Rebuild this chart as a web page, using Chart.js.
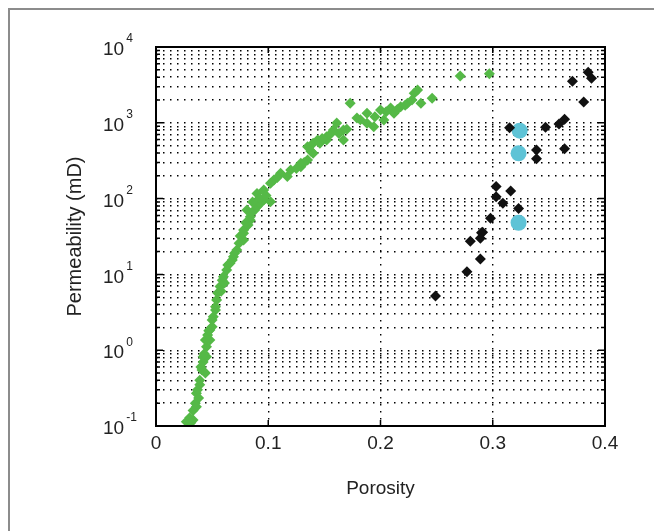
<!DOCTYPE html>
<html>
<head>
<meta charset="utf-8">
<script src="https://cdn.jsdelivr.net/npm/chart.js@4.4.1/dist/chart.umd.min.js"></script>
<style>
  html, body { margin: 0; padding: 0; background: #fff; }
  #wrap { position: relative; width: 654px; height: 531px; overflow: hidden; }
  #frame { position: absolute; left: 8px; top: 8px; width: 700px; height: 600px;
           border-top: 2px solid #8c8c8c; border-left: 2px solid #8c8c8c; }
  canvas { position: absolute; left: 0; top: 0; }
</style>
</head>
<body>
<div id="wrap">
  <div id="frame"></div>
  <canvas id="chart" width="654" height="531"></canvas>
</div>
<script>
// green samples (porosity, permeability mD)
const greenPorosity = [0.027, 0.033, 0.030, 0.036, 0.035, 0.036, 0.038, 0.039, 0.039, 0.041,
  0.044, 0.042, 0.042, 0.045, 0.045, 0.044, 0.048, 0.046, 0.048, 0.050,
  0.051, 0.053, 0.053, 0.054, 0.055, 0.057, 0.061, 0.059, 0.060, 0.063,
  0.064, 0.068, 0.069, 0.072, 0.074, 0.078, 0.075, 0.078, 0.078, 0.082,
  0.084, 0.084, 0.081, 0.088, 0.090, 0.093, 0.096, 0.102, 0.090, 0.096,
  0.102, 0.105, 0.111, 0.117, 0.120, 0.129, 0.129, 0.135, 0.135, 0.140,
  0.140, 0.144, 0.146, 0.152, 0.152, 0.158, 0.161, 0.167, 0.167, 0.173,
  0.179, 0.188, 0.188, 0.194, 0.200, 0.203, 0.209, 0.212, 0.218, 0.224,
  0.230, 0.233, 0.236, 0.246, 0.271, 0.297,
  0.085, 0.092, 0.098, 0.086, 0.080, 0.070, 0.066, 0.058, 0.050, 0.047,
  0.043, 0.040, 0.037, 0.033, 0.031, 0.108, 0.125, 0.132, 0.138, 0.148,
  0.155, 0.163, 0.170, 0.182, 0.195, 0.205, 0.215, 0.222, 0.228];
const greenPerm = [0.114, 0.12, 0.128, 0.18, 0.2, 0.27, 0.234, 0.35, 0.40, 0.55,
  0.50, 0.70, 0.82, 0.82, 1.11, 1.36, 1.36, 1.59, 1.85, 2.04,
  2.77, 3.39, 3.75, 4.59, 5.7, 6.9, 7.7, 8.4, 9.3, 11.4,
  13.3, 15.5, 17.1, 21, 25.7, 28.4, 32, 34.8, 38.5, 45,
  52, 57.7, 70.8, 70.8, 78, 86.7, 96, 91, 117, 130,
  159, 176, 216, 195, 238, 264, 292, 323, 484, 396,
  537, 593, 537, 656, 593, 803, 993, 803, 593, 1808,
  1156, 1334, 985, 889, 1476, 1089, 1567, 1334, 1630, 1808,
  2449, 2710, 1808, 2104, 4140, 4446,
  65, 100, 110, 90, 48, 19, 14, 6, 2.5, 1.8,
  0.9, 0.6, 0.3, 0.16, 0.11, 190, 250, 300, 420, 620,
  700, 720, 820, 1100, 1200, 1400, 1500, 1700, 2000];

// black samples
const blackPorosity = [0.385, 0.388, 0.371, 0.381, 0.315, 0.347, 0.359, 0.364, 0.339, 0.339,
  0.364, 0.303, 0.303, 0.309, 0.316, 0.323, 0.298, 0.290, 0.291, 0.289, 0.280, 0.289, 0.277, 0.249];
const blackPerm = [4634, 3865, 3527, 1880, 861, 873, 964, 1112, 438, 336,
  455, 144, 106, 87, 126, 74, 55, 35.5, 36, 30, 27.3, 16, 10.8, 5.2];

// cyan samples
const cyanPorosity = [0.324, 0.323, 0.323];
const cyanPerm = [787, 396, 48];

const xTicks = [0, 0.1, 0.2, 0.3, 0.4];
const xTickLabels = ['0', '0.1', '0.2', '0.3', '0.4'];
const yExponents = [-1, 0, 1, 2, 3, 4];

const FONT = '"Liberation Sans", Arial, sans-serif';
const TEXT = '#222';

function pts(xs, ys) {
  return xs.map((x, i) => ({ x: x, y: ys[i] }));
}

// all log grid values 1..9 x 10^e
const yGrid = [];
for (let e = yExponents[0]; e < yExponents[yExponents.length - 1]; e++) {
  for (let m = 1; m <= 9; m++) yGrid.push(m * Math.pow(10, e));
}
yGrid.push(Math.pow(10, yExponents[yExponents.length - 1]));

const frameBox = {
  id: 'frameBox',
  afterDraw(chart) {
    const { ctx, chartArea: a, scales: { x, y } } = chart;
    ctx.save();
    ctx.strokeStyle = '#000';
    ctx.lineWidth = 2;
    ctx.strokeRect(a.left, a.top, a.right - a.left, a.bottom - a.top);

    // inward ticks like matlab
    ctx.lineWidth = 1.5;
    ctx.beginPath();
    xTicks.forEach(v => {
      const px = x.getPixelForValue(v);
      ctx.moveTo(px, a.bottom); ctx.lineTo(px, a.bottom - 6);
      ctx.moveTo(px, a.top); ctx.lineTo(px, a.top + 6);
    });
    yGrid.forEach(v => {
      const py = y.getPixelForValue(v);
      const len = Math.abs(Math.log10(v) % 1) < 1e-9 ? 7 : 4;
      ctx.moveTo(a.left, py); ctx.lineTo(a.left + len, py);
      ctx.moveTo(a.right, py); ctx.lineTo(a.right - len, py);
    });
    ctx.stroke();

    // y tick labels with superscripts
    ctx.fillStyle = TEXT;
    ctx.textAlign = 'left';
    ctx.textBaseline = 'middle';
    yExponents.forEach(e => {
      const py = y.getPixelForValue(Math.pow(10, e));
      ctx.font = '19px ' + FONT;
      ctx.fillText('10', 103, py + 3);
      const w = ctx.measureText('10').width;
      ctx.font = '12px ' + FONT;
      ctx.fillText(String(e), 103 + w + 2, py - 8);
    });
    ctx.restore();
  }
};

new Chart(document.getElementById('chart'), {
  type: 'scatter',
  data: {
    datasets: [
      {
        label: 'green',
        data: pts(greenPorosity, greenPerm),
        pointStyle: 'rectRot',
        pointRadius: 5.5,
        backgroundColor: '#55b947',
        borderColor: '#55b947',
        borderWidth: 0
      },
      {
        label: 'black',
        data: pts(blackPorosity, blackPerm),
        pointStyle: 'rectRot',
        pointRadius: 5.5,
        backgroundColor: '#111',
        borderColor: '#111',
        borderWidth: 0
      },
      {
        label: 'cyan',
        data: pts(cyanPorosity, cyanPerm),
        pointStyle: 'circle',
        pointRadius: 8,
        backgroundColor: '#5ec3d6',
        borderColor: '#5ec3d6',
        borderWidth: 0
      }
    ]
  },
  options: {
    responsive: false,
    animation: false,
    layout: { padding: { left: 10, right: 49, top: 47, bottom: 0 } },
    plugins: { legend: { display: false }, tooltip: { enabled: false } },
    scales: {
      x: {
        type: 'linear',
        min: 0,
        max: 0.4,
        afterBuildTicks: s => { s.ticks = xTicks.map(v => ({ value: v })); },
        afterFit: s => { s.height = 105; },
        ticks: {
          color: TEXT,
          font: { family: FONT, size: 19 },
          padding: 6,
          maxRotation: 0,
          callback: (v, i) => xTickLabels[i]
        },
        grid: { color: '#000', lineWidth: 1.4, drawTicks: false },
        border: { display: false, dash: [1.5, 5.5] },
        title: {
          display: true,
          text: 'Porosity',
          color: TEXT,
          font: { family: FONT, size: 19 },
          padding: { top: 0, bottom: 31 }
        }
      },
      y: {
        type: 'logarithmic',
        min: 0.1,
        max: 10000,
        afterBuildTicks: s => { s.ticks = yGrid.map(v => ({ value: v })); },
        afterFit: s => { s.width = 146; },
        ticks: { display: false },
        grid: { color: '#000', lineWidth: 1.4, drawTicks: false },
        border: { display: false, dash: [1.5, 5.5] },
        title: {
          display: true,
          text: 'Permeability (mD)',
          color: TEXT,
          font: { family: FONT, size: 20 },
          padding: { top: 53, bottom: 0 }
        }
      }
    }
  },
  plugins: [frameBox]
});
</script>
</body>
</html>
